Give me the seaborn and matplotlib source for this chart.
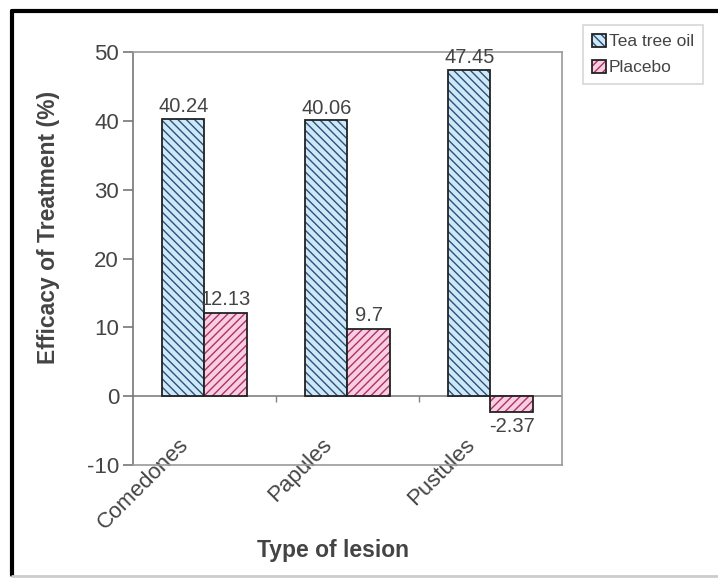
import pandas as pd
import matplotlib.pyplot as plt
import seaborn as sns
from matplotlib.colors import to_rgba
from matplotlib.lines import Line2D
from matplotlib.transforms import ScaledTranslation

# Datos del gráfico
lesiones = ["Comedones", "Papules", "Pustules"]
tea_tree = [40.24, 40.06, 47.45]
placebo = [12.13, 9.7, -2.37]
etiquetas_tea = ["40.24", "40.06", "47.45"]
etiquetas_placebo = ["12.13", "9.7", "-2.37"]

df = pd.DataFrame({
    "Lesion": lesiones * 2,
    "Efficacy": tea_tree + placebo,
    "Grupo": ["Tea tree oil"] * 3 + ["Placebo"] * 3,
})

sns.set_style("white")
plt.rcParams["font.family"] = ["Liberation Sans", "DejaVu Sans"]
plt.rcParams["axes.unicode_minus"] = False

fig = plt.figure(figsize=(7.18, 5.78), dpi=100)
ax = fig.add_axes([0.1852, 0.1955, 0.5975, 0.7145])

sns.barplot(data=df, x="Lesion", y="Efficacy", hue="Grupo",
            palette=["#cde9f7", "#f7cfe0"], width=0.59, ax=ax,
            legend=False, saturation=1)

# Tramas y bordes
estilos = [("\\\\\\\\", "#2e4f7f"), ("////", "#b0306a")]
for cont, (trama, col_trama) in zip(ax.containers, estilos):
    for bar in cont:
        bar.set_hatch(trama)
        bar.set_edgecolor("#222222")
        bar.set_linewidth(1.3)
        bar._hatch_color = to_rgba(col_trama)

ax.bar_label(ax.containers[0], labels=etiquetas_tea, padding=2,
             fontsize=14.5, color="#444444")
ax.bar_label(ax.containers[1], labels=etiquetas_placebo, padding=3,
             fontsize=14.5, color="#444444")

ax.set_ylim(-10, 50)
ax.set_xlim(-0.5, 2.5)
ax.set_yticks([-10, 0, 10, 20, 30, 40, 50])
ax.axhline(0, color="#808080", lw=1.2, zorder=0.5)
ax.vlines([0.5, 1.5], -0.8, 0, color="#808080", lw=1)

for s in ax.spines.values():
    s.set_color("#9a9a9a")
    s.set_linewidth(1.2)
ax.spines["left"].set_color("#777777")

ax.tick_params(axis="y", left=True, length=7, width=1.2, color="#777777",
               labelsize=16, labelcolor="#444444", pad=3)
ax.tick_params(axis="x", bottom=False, labelsize=16, labelcolor="#444444",
               pad=-26)
for lab in ax.get_xticklabels():
    lab.set_rotation(45)
    lab.set_ha("right")
    lab.set_va("top")
    lab.set_rotation_mode("anchor")
    lab.set_transform(lab.get_transform() +
                      ScaledTranslation(-0.26, 0, fig.dpi_scale_trans))

ax.set_ylabel("Efficacy of Treatment (%)", fontsize=16.5, fontweight="bold",
              color="#444444")
ax.yaxis.set_label_coords(-0.17, 0.576)
ax.set_xlabel("Type of lesion", fontsize=16.5, fontweight="bold",
              color="#444444")
ax.xaxis.set_label_coords(0.466, -0.18)

# Leyenda
leg = ax.legend(handles=ax.containers[0][:1] + ax.containers[1][:1],
                labels=["Tea tree oil", "Placebo"],
                loc="upper left", bbox_to_anchor=(0.812, 0.957),
                bbox_transform=fig.transFigure, fontsize=12.5,
                frameon=True, fancybox=False, handlelength=0.8,
                handleheight=0.8, handletextpad=0.2, borderpad=0.5,
                borderaxespad=0, labelspacing=0.6)
leg.get_frame().set_edgecolor("#cccccc")
leg.get_frame().set_linewidth(1.2)
for t in leg.get_texts():
    t.set_color("#444444")

# Marco exterior
fig.add_artist(Line2D([0.017, 0.017], [0.005, 0.981], color="black",
                      lw=3, transform=fig.transFigure))
fig.add_artist(Line2D([0.017, 1.0], [0.981, 0.981], color="black",
                      lw=3, transform=fig.transFigure))
fig.add_artist(Line2D([0.017, 1.0], [0.004, 0.004], color="#cccccc",
                      lw=2, transform=fig.transFigure))

plt.savefig("out.png", dpi=100)
